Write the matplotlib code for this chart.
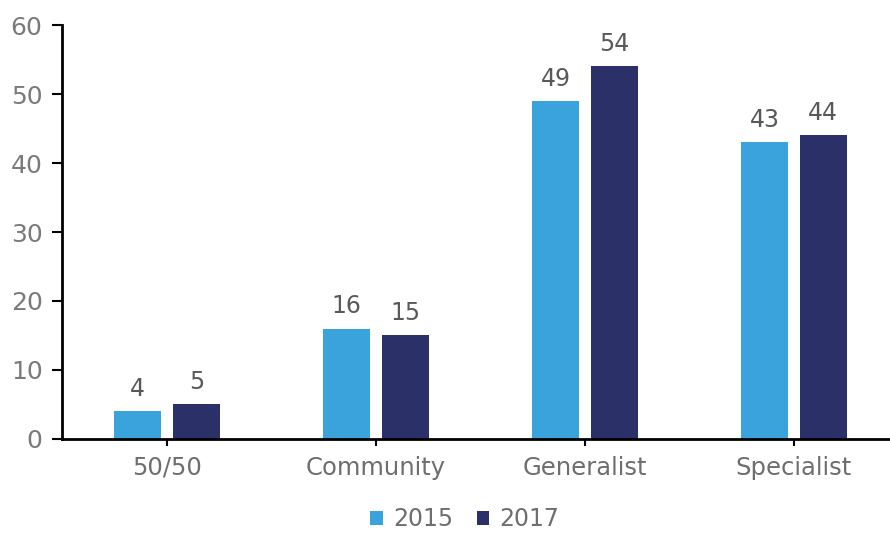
import matplotlib.pyplot as plt
import numpy as np

# Bar chart of counts per category, 2015 vs 2017
categories = ["50/50", "Community", "Generalist", "Specialist"]
values_2015 = [4, 16, 49, 43]
values_2017 = [5, 15, 54, 44]
years = ["2015", "2017"]

plt.rcParams['font.family'] = ['DejaVu Sans']

fig = plt.figure(figsize=(8.9, 5.34), dpi=100)
ax = fig.add_axes([0.0697, 0.178, 0.9303, 0.775])

x = np.arange(len(categories))
w = 0.225
off = 0.141
b1 = ax.bar(x - off, values_2015, w, color="#3aa3db", label=years[0])
b2 = ax.bar(x + off, values_2017, w, color="#2c3068", label=years[1])

for bars, vals in [(b1, values_2015), (b2, values_2017)]:
	for bar, v in zip(bars, vals):
		ax.text(bar.get_x() + bar.get_width() / 2, v + 1.5, str(v),
			ha="center", va="bottom", fontsize=17, color="#595959")

ax.set_ylim(0, 60)
ax.set_yticks(range(0, 61, 10))
ax.set_xlim(-0.503, 3.46)
ax.set_xticks(x)
ax.set_xticklabels(categories)

for s in ["top", "right"]:
	ax.spines[s].set_visible(False)
for s in ["left", "bottom"]:
	ax.spines[s].set_linewidth(2)

ax.tick_params(axis="y", length=7, width=1.5, labelsize=18, labelcolor="#7a7a7a", pad=7)
ax.tick_params(axis="x", length=5, width=1.5, labelsize=17.5, labelcolor="#6e6e6e", pad=7)

fig.legend(loc="center", bbox_to_anchor=(0.522, 1 - 519 / 534), ncol=2, frameon=False,
	fontsize=17, handlelength=0.55, handleheight=0.55, handletextpad=0.4, columnspacing=1.0,
	borderpad=0, borderaxespad=0, labelcolor="#6e6e6e")

fig.savefig("out.png", dpi=100)
